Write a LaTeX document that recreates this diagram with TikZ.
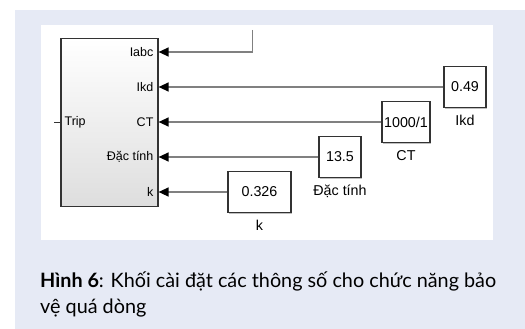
\documentclass[tikz,border=0pt]{standalone}
\usepackage{fontspec}
\setsansfont{Liberation Sans}
\newfontfamily\capfont{Lato}
\usetikzlibrary{arrows.meta, positioning, shadows}
\definecolor{panelbg}{RGB}{230,234,245}
\definecolor{wire}{RGB}{128,128,128}

\begin{document}
\begin{tikzpicture}[
      x=1pt, y=-1pt,
      subsys/.style={rectangle, draw=black!80, line width=1.2pt, minimum width=97pt, minimum height=168pt, top color=white, bottom color=black!13, inner sep=0pt},
      const/.style={rectangle, draw=black!80, line width=1.2pt, fill=white, minimum height=41pt, inner sep=0pt, font=\sffamily\fontsize{14.3}{16}\selectfont, drop shadow={shadow xshift=1pt, shadow yshift=-1pt, fill=black!50, opacity=0.5}},
      port/.style={anchor=east, inner sep=0pt, font=\sffamily\fontsize{12.5}{14}\selectfont},
      lbl/.style={inner sep=0pt, text height=10pt, text depth=3pt, font=\sffamily\fontsize{14.3}{16}\selectfont},
      sig/.style={-{Triangle[length=10pt, width=9pt, color=black]}, draw=wire, line width=1.3pt}
    ]
    
    \useasboundingbox (0,0) rectangle (525,329);
    \fill[panelbg] (15,10) rectangle (525,329);
    \fill[white] (40.7,25) rectangle (492.7,240);
    
    \node[subsys] (blk) at (109.5,122.2) {};
    
    \node[const, minimum width=42pt] (ikdval) at (465,87) {0.49};
    \node[const, minimum width=48pt] (ctval) at (406,122) {1000/1};
    \node[const, minimum width=42pt] (dacval) at (340,157) {13.5};
    \node[const, minimum width=63pt] (kval) at (259.5,192) {0.326};
    
    \node[lbl, below=7pt of ikdval] (ikdlbl) {Ikd};
    \node[lbl, below=7pt of ctval] (ctlbl) {CT};
    \node[lbl, below=7pt of dacval] (daclbl) {Đặc tính};
    \node[lbl, below=7pt of kval] (klbl) {k};
    
    \coordinate (iabcin) at (252.7,30);
    \coordinate (iabcport) at (blk.east |- 0,52);
    \coordinate (tripout) at (54,122);
    
    \node[port] at ([xshift=-5pt]iabcport) {Iabc};
    \node[port] at ([xshift=-5pt]ikdval.west -| blk.east) {Ikd};
    \node[port] at ([xshift=-5pt]ctval.west -| blk.east) {CT};
    \node[port] at ([xshift=-5pt]dacval.west -| blk.east) {Đặc tính};
    \node[port] at ([xshift=-5pt]kval.west -| blk.east) {k};
    \node[port, anchor=west] at ([xshift=4pt]blk.west |- tripout) {Trip};
    
    \draw[sig] (iabcin) |- (iabcport);
    \draw[sig] (ikdval.west) -- (ikdval.west -| blk.east);
    \draw[sig] (ctval.west) -- (ctval.west -| blk.east);
    \draw[sig] (dacval.west) -- (dacval.west -| blk.east);
    \draw[sig] (kval.west) -- (kval.west -| blk.east);
    \draw[black!80, line width=1pt] (tripout) -- (blk.west |- tripout);
    
    \node[anchor=north west, align=left, inner sep=0pt, font=\capfont\fontsize{19.8}{26}\selectfont] (cap) at (40,272) {\textbf{Hình 6}: Khối cài đặt các thông số cho chức năng bảo\\vệ quá dòng};
  \end{tikzpicture}
\end{document}
